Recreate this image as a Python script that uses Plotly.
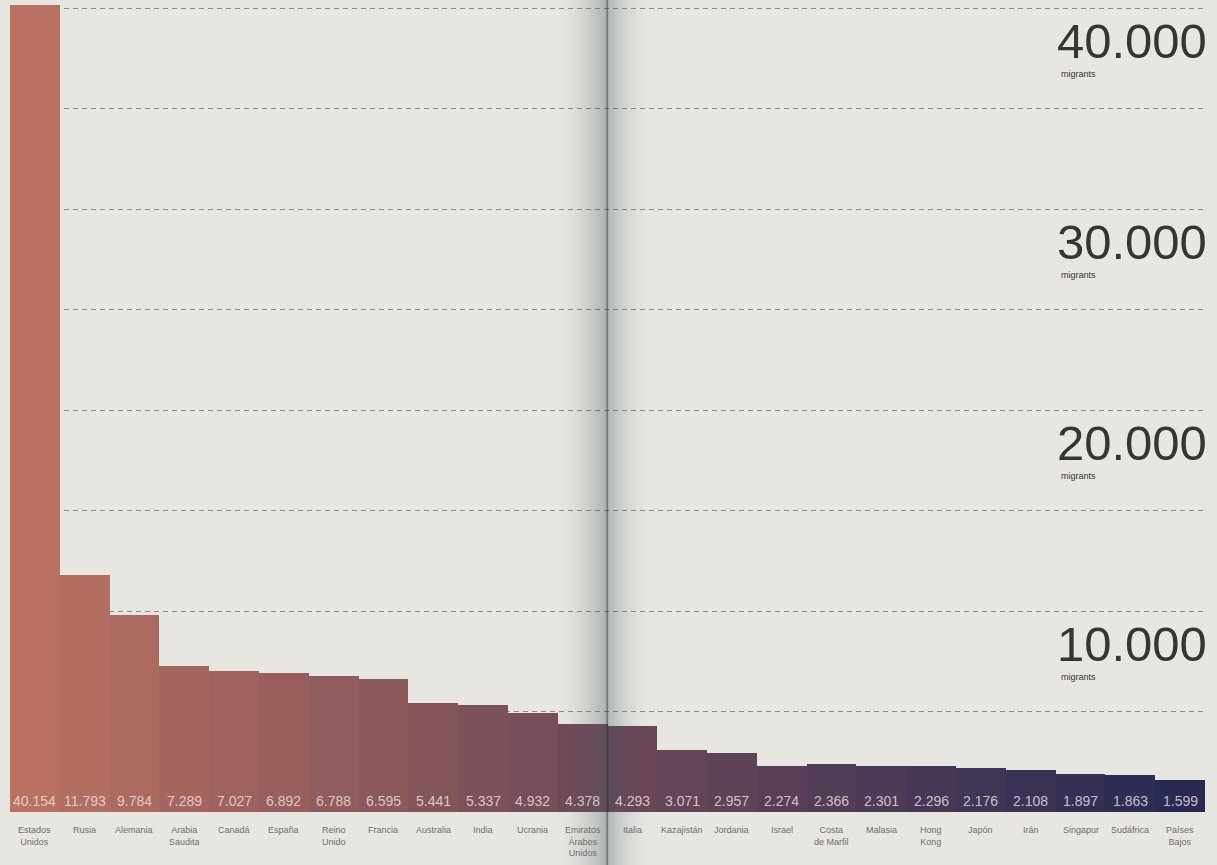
import plotly.graph_objects as go

countries = ["Estados<br>Unidos", "Rusia", "Alemania", "Arabia<br>Saudita", "Canadá", "España",
             "Reino<br>Unido", "Francia", "Australia", "India", "Ucrania", "Emiratos<br>Árabes<br>Unidos",
             "Italia", "Kazajistán", "Jordania", "Israel", "Costa<br>de Marfil", "Malasia",
             "Hong<br>Kong", "Japón", "Irán", "Singapur", "Sudáfrica", "Países<br>Bajos"]
migrants = [40154, 11793, 9784, 7289, 7027, 6892, 6788, 6595, 5441, 5337, 4932, 4378,
            4293, 3071, 2957, 2274, 2366, 2301, 2296, 2176, 2108, 1897, 1863, 1599]
value_labels = ["40.154", "11.793", "9.784", "7.289", "7.027", "6.892", "6.788", "6.595", "5.441",
                "5.337", "4.932", "4.378", "4.293", "3.071", "2.957", "2.274", "2.366", "2.301",
                "2.296", "2.176", "2.108", "1.897", "1.863", "1.599"]
axis_marks = [10000, 20000, 30000, 40000]
axis_texts = ["10.000", "20.000", "30.000", "40.000"]
unit_text = "migrants"

# colour gradient (style only)
stops = [(0, (185, 113, 98)), (11, (112, 74, 88)), (23, (40, 42, 84))]
def grad(i):
    for (a, ca), (b, cb) in zip(stops[:-1], stops[1:]):
        if a <= i <= b:
            t = (i - a) / (b - a)
            return "rgb(%d,%d,%d)" % tuple(round(ca[k] + (cb[k] - ca[k]) * t) for k in range(3))
    return "rgb(40,42,84)"
colors = [grad(i) for i in range(len(countries))]

xs = list(range(len(countries)))
fig = go.Figure(go.Bar(x=xs, y=migrants, marker=dict(color=colors, line=dict(width=0)),
                       width=1.0, hoverinfo="skip"))

ann = []
for i, (v, t) in enumerate(zip(value_labels, countries)):
    ann.append(dict(x=i, y=0, xref="x", yref="y", text=v, showarrow=False, yanchor="bottom",
                    yshift=1, font=dict(family="Liberation Sans", size=14, color="rgba(240,228,226,0.8)")))
    ann.append(dict(x=i, y=0, xref="x", yref="y", text=t, showarrow=False, yanchor="top",
                    yshift=-11, align="center",
                    font=dict(family="Liberation Sans", size=9, color="#6e6e6e")))
for m, t in zip(axis_marks, axis_texts):
    ann.append(dict(x=1.0, y=m, xref="paper", yref="y", text=t, showarrow=False, xanchor="right",
                    yanchor="top", yshift=-4, xshift=4,
                    font=dict(family="Liberation Sans", size=49, color="#353535")))
    ann.append(dict(x=(1059 - 10) / 1195, y=m, xref="paper", yref="y", text=unit_text, showarrow=False,
                    xanchor="left", yanchor="top", yshift=-59,
                    font=dict(family="Liberation Sans", size=9, color="#333333")))

# book-fold shading (photo effect)
shapes = []
def px(p):
    return (p - 10) / 1195
n = 16
for k in range(n):
    x0 = 555 + k * (52 / n)
    shapes.append(dict(type="rect", xref="paper", yref="paper", x0=px(x0), x1=px(x0 + 52 / n),
                       y0=-0.08, y1=1.01, line=dict(width=0),
                       fillcolor="rgba(70,90,100,%.3f)" % (0.36 * ((k + 1) / n) ** 2), layer="above"))
for k in range(n):
    x0 = 609 + k * (42 / n)
    shapes.append(dict(type="rect", xref="paper", yref="paper", x0=px(x0), x1=px(x0 + 42 / n),
                       y0=-0.08, y1=1.01, line=dict(width=0),
                       fillcolor="rgba(70,90,100,%.3f)" % (0.30 * (1 - k / n) ** 2), layer="above"))
shapes.append(dict(type="line", xref="paper", yref="paper", x0=px(607.5), x1=px(607.5),
                   y0=-0.08, y1=1.01, line=dict(width=2, color="rgba(40,50,55,0.6)"), layer="above"))

fig.update_layout(
    width=1217, height=865,
    margin=dict(l=10, r=12, t=0, b=53),
    paper_bgcolor="#e7e6e1", plot_bgcolor="#e7e6e1",
    bargap=0, showlegend=False,
    annotations=ann, shapes=shapes,
    xaxis=dict(range=[-0.5, len(countries) - 0.5], showticklabels=False, showgrid=False,
               zeroline=False, fixedrange=True),
    yaxis=dict(range=[0, 40400], tickvals=[5000 * k for k in range(1, 9)], showticklabels=False,
               showgrid=True, gridcolor="#8a8a8a", gridwidth=1.3, griddash="5px,4px",
               zeroline=False, fixedrange=True),
)
fig.write_html("out.html")
